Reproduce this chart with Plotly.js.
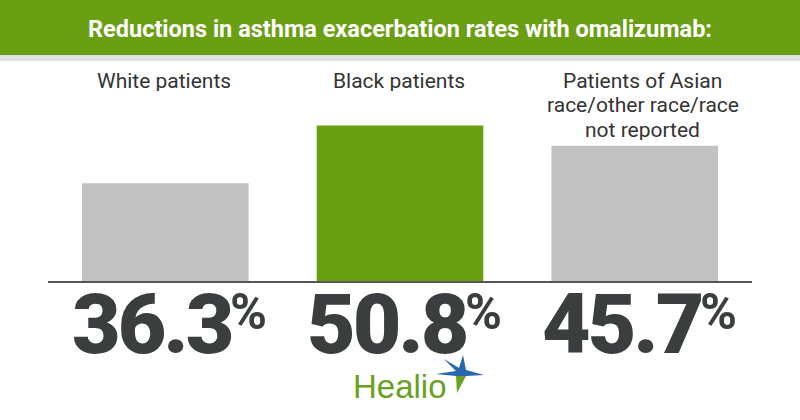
<!DOCTYPE html>
<html>
<head>
<meta charset="utf-8">
<script src="https://cdn.plot.ly/plotly-3.0.1.min.js"></script>
<style>html,body{margin:0;padding:0;background:#fff;}#chart{width:800px;height:420px;}</style>
</head>
<body>
<div id="chart"></div>
<script>
// ---- data ----
const titleText = 'Reductions in asthma exacerbation rates with omalizumab:';
const categories = ['White patients', 'Black patients', 'Patients of Asian<br>race/other race/race<br>not reported'];
const values = [36.3, 50.8, 45.7];
const valueLabels = ['36.3', '50.8', '45.7'];
const unitLabel = '%';
const brand = 'Healio';

// ---- style ----
const GREEN = '#6a9f13';
const GREY = '#c2c2c2';
const barColors = [GREY, GREEN, GREY];
const labelShift = [-1, -1, 8];
const TXT = '#3a3e3f';

const W = 800, H = 420;
const M = {l: 48, r: 48, t: 100, b: 139};
const plotH = H - M.t - M.b; // 181
const baseY = H - M.b;       // 281
const yMin = 11.8, yPerPx = 1 / 3.986;
const yRange = [yMin, yMin + plotH * yPerPx];
const py = p => (baseY - p) / plotH;          // pixel y -> paper y
const px = p => (p - M.l) / (W - M.l - M.r);  // pixel x -> paper x

const annotations = [];
annotations.push({xref: 'paper', yref: 'paper', x: 0.5, y: py(29), xanchor: 'center', yanchor: 'middle',
  text: '<b>' + titleText + '</b>', showarrow: false,
  font: {family: '"Liberation Sans Narrow", "Roboto", sans-serif', size: 23.5, color: '#ffffff'}});

categories.forEach((c, i) => {
  c.split('<br>').forEach((line, k) => {
    annotations.push({xref: 'x', yref: 'paper', x: c, y: py(80.5 + 24.7 * k), xanchor: 'center', yanchor: 'middle',
      height: 20, valign: 'middle', borderpad: 0,
      xshift: labelShift[i], text: line, showarrow: false,
      font: {family: 'Roboto, sans-serif', size: 21, color: '#333333'}});
  });
  annotations.push({xref: 'x', yref: 'paper', x: c, y: py(273), xanchor: 'right', yanchor: 'top', xshift: 69,
    height: 84, valign: 'top',
    text: '<span style="letter-spacing:-3px">' + valueLabels[i] + '</span>', showarrow: false,
    font: {family: 'Roboto, sans-serif', size: 84, weight: 900, color: TXT}});
  annotations.push({xref: 'x', yref: 'paper', x: c, y: py(281), xanchor: 'left', yanchor: 'top', xshift: 63,
    text: unitLabel, showarrow: false,
    font: {family: 'Roboto, sans-serif', size: 50, weight: 700, color: TXT}});
});

annotations.push({xref: 'paper', yref: 'paper', x: px(400), y: py(366), xanchor: 'center', yanchor: 'top',
  text: brand, showarrow: false,
  font: {family: '"Liberation Sans", Arial, sans-serif', size: 33, color: '#6aa121'}});

const shapes = [
  {type: 'rect', xref: 'paper', yref: 'paper', x0: px(0), x1: px(800), y0: py(0), y1: py(55),
   fillcolor: GREEN, line: {width: 0}, layer: 'below'},
  {type: 'rect', xref: 'paper', yref: 'paper', x0: px(0), x1: px(800), y0: py(55), y1: py(61),
   fillcolor: '#e3e1e5', line: {width: 0}, layer: 'below'},
  // logo star (blue)
  {type: 'path', xref: 'paper', yref: 'paper', xsizemode: 'pixel', ysizemode: 'pixel',
   xanchor: px(461), yanchor: py(374),
   path: 'M -25,0 L -5,3 L -17,15 L -2,6 L 2,19 L 5,4 L 23,-1 L 5,-2 L 0,-4 L -5,-2 Z',
   fillcolor: '#2a68ad', line: {width: 0}},
  // logo star (green lower point)
  {type: 'path', xref: 'paper', yref: 'paper', xsizemode: 'pixel', ysizemode: 'pixel',
   xanchor: px(461), yanchor: py(374),
   path: 'M -5,-2 L 5,-2 L -4,-19 Z',
   fillcolor: '#6aa121', line: {width: 0}}
];

const trace = {
  type: 'bar', x: categories, y: values,
  marker: {color: barColors, line: {width: 0}},
  hoverinfo: 'skip', cliponaxis: true
};

const layout = {
  width: W, height: H,
  margin: M,
  paper_bgcolor: '#ffffff', plot_bgcolor: '#ffffff',
  showlegend: false,
  bargap: 0.29,
  xaxis: {showticklabels: false, ticks: '', showgrid: false, zeroline: false,
          showline: true, linecolor: '#555555', linewidth: 2, layer: 'below traces', fixedrange: true},
  yaxis: {range: yRange, visible: false, showgrid: false, zeroline: false, fixedrange: true},
  annotations: annotations,
  shapes: shapes
};

Plotly.newPlot('chart', [trace], layout, {displayModeBar: false, staticPlot: true});
</script>
</body>
</html>
